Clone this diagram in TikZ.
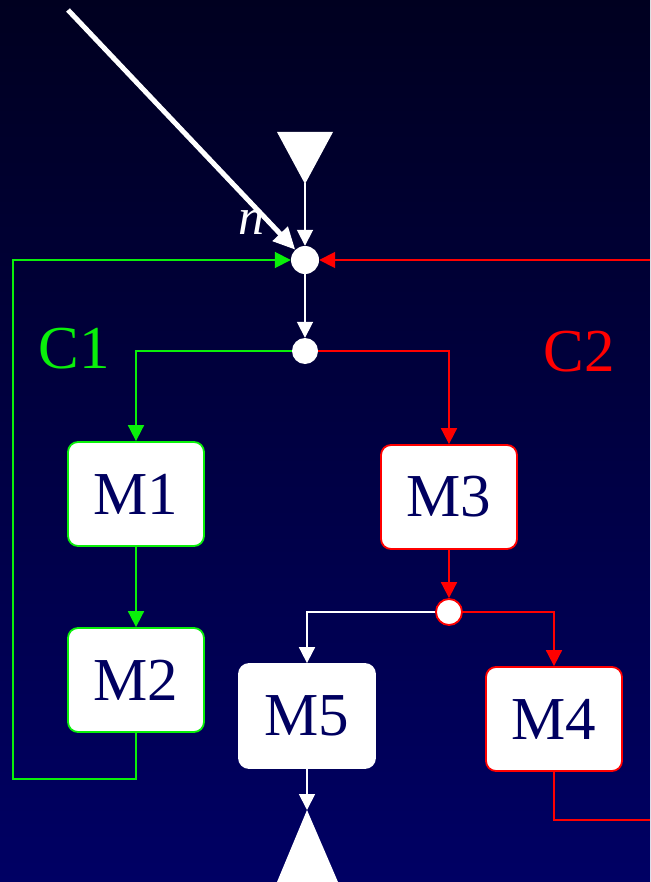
\documentclass[tikz,border=0pt]{standalone}
\usepackage{fontspec}
\setmainfont{Liberation Serif}
\usepackage{tikz}
\usetikzlibrary{arrows.meta}

\definecolor{deepnavy}{RGB}{0,0,32}
\definecolor{navy}{RGB}{0,0,100}
\definecolor{loopgreen}{RGB}{10,240,10}
\definecolor{loopred}{RGB}{255,0,0}
\definecolor{labelnavy}{RGB}{0,0,96}

\tikzstyle{module} = [draw, fill=white, rectangle, rounded corners=10pt,
    line width=1.8pt, minimum width=136pt, minimum height=104pt,
    inner sep=0pt, text=labelnavy, font=\fontsize{61}{63}\selectfont]
\tikzstyle{junction} = [fill=white, circle, inner sep=0pt, minimum size=28pt]
\tikzstyle{flow} = [line width=1.8pt, ->]
\tikzstyle{bigtext} = [font=\fontsize{61}{63}\selectfont]

\begin{document}
\begin{tikzpicture}[x=1pt, y=-1pt, >={Triangle[length=16pt,width=16pt]}]

    % Background first, it also fixes the page size
    \shade[top color=deepnavy, bottom color=navy] (0,0) rectangle (650,882);
    \useasboundingbox (0,0) rectangle (650,882);

    % Source on top and sink at the bottom
    \fill[white] (277,132) -- (333,132) -- (305,184) -- cycle;
    \coordinate (source) at (305,183);
    \fill[white] (307,810) -- (338,882) -- (277,882) -- cycle;
    \coordinate (sink) at (307,810);

    % The junction points
    \node[junction] (merge) at (305,260) {};
    \node[junction, minimum size=26pt] (split) at (305,351) {};
    \node[junction, draw=loopred, line width=1.8pt, minimum size=26pt] (fork) at (449,612) {};

    % Then the blocks
    \node[module, draw=loopgreen] (M1) at (136,494) {M1};
    \node[module, draw=loopgreen] (M2) at (136,680) {M2};
    \node[module, draw=loopred] (M3) at (449,497) {M3};
    \node[module, draw=white] (M5) at (307,716) {M5};
    \node[module, draw=loopred] (M4) at (554,719) {M4};

    % Loop names and the input label
    \node[bigtext, text=loopgreen] (c1) at (74,349) {C1};
    \node[bigtext, text=loopred] (c2) at (579,352) {C2};
    \node[font=\fontsize{52}{54}\selectfont\itshape, text=white] (n) at (251,222) {n};

    % Loose ends of the lines
    \coordinate (nstart) at (68,10);
    \coordinate (c2in) at (650,260);
    \coordinate (c2out) at (650,820);
    \coordinate (c1corner) at (13,779);

    % Now the connections
    \draw[white, line width=5pt, -{Triangle[length=22pt,width=20pt]}] (nstart) -- (merge);
    \draw[flow, white] (source) -- (merge);
    \draw[flow, loopred] (c2in) -- (merge);
    \draw[flow, loopgreen] (M2.south) |- (c1corner) |- (merge);
    \draw[flow, white] (merge) -- (split);
    \draw[flow, loopgreen] (split) -| (M1.north);
    \draw[flow, loopred] (split) -| (M3.north);
    \draw[flow, loopgreen] (M1) -- (M2);
    \draw[flow, loopred] (M3) -- (fork);
    \draw[flow, white] (fork) -| (M5.north);
    \draw[flow, loopred] (fork) -| (M4.north);
    \draw[line width=1.8pt, loopred] (M4.south) |- (c2out);
    \draw[flow, white] (M5) -- (sink);

\end{tikzpicture}
\end{document}
